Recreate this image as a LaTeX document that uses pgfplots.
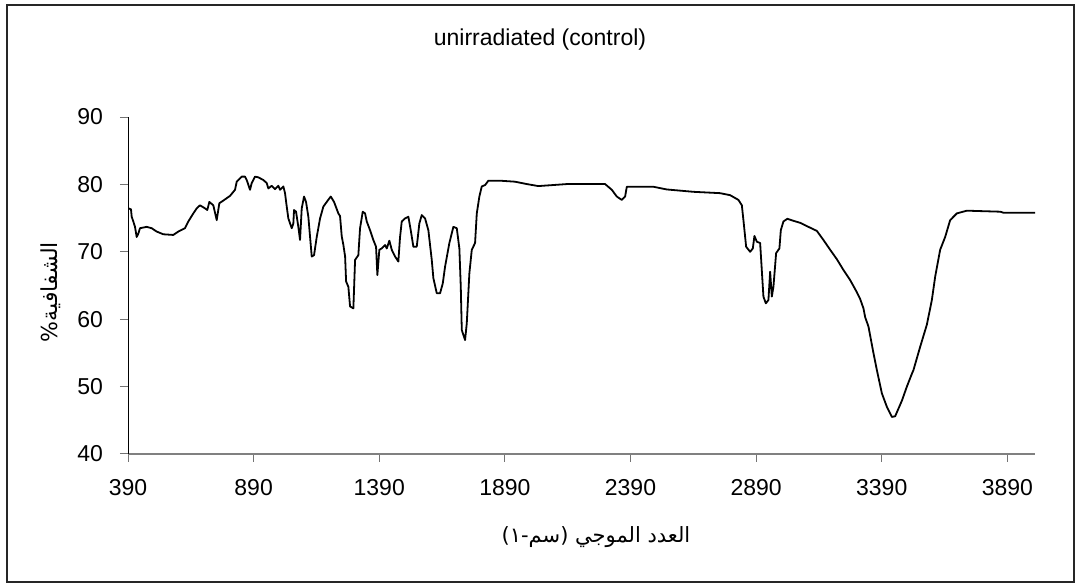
\documentclass[border=0pt]{standalone}
\usepackage{fontspec}
\setmainfont{Liberation Sans}
\newfontfamily\arabicfont[Script=Arabic]{DejaVu Sans}
\TeXXeTstate=1
\usepackage{pgfplots}
\pgfplotsset{compat=1.18}
\begin{document}
\begin{tikzpicture}
\useasboundingbox (0,0) rectangle (540.5pt,291.5pt);
\draw[line width=0.6pt, black!85] (3.5pt,0.5pt) rectangle (537pt,289pt);
\node[font=\fontsize{11.5}{13}\selectfont] at (270pt,271.5pt) {unirradiated (control)};
\node[rotate=90,font=\fontsize{11}{13}\selectfont\arabicfont] at (25.5pt,145.5pt) {\beginR الشفافية\%\endR};
\node[font=\fontsize{10.5}{13}\selectfont\arabicfont] at (298pt,23pt) {\beginR العدد الموجي (سم-١)\endR};
\begin{axis}[
  at={(64pt,64.5pt)}, anchor=south west,
  scale only axis, width=453.5pt, height=168.5pt,
  xmin=390, xmax=4000, ymin=40, ymax=90,
  xtick={390,890,1390,1890,2390,2890,3390,3890},
  ytick={40,50,60,70,80,90},
  axis x line*=bottom, axis y line*=left,
  x axis line style={draw=black!50,-, line width=0.6pt},
  y axis line style={draw=black,-, line width=0.5pt},
  tick align=outside, major tick length=4pt,
  tick style={draw=black!55, line width=0.5pt},
  /pgf/number format/assume math mode=true,
  /pgf/number format/1000 sep={},
  ticklabel style={font=\fontsize{11.5}{13}\selectfont},
  yticklabel style={xshift=-5pt},
  xticklabel style={yshift=-5pt},
]
\addplot[black, line width=0.9pt, line join=round] coordinates {
(391.2,76.45)(401.9,76.3)(404.7,75.2)(411.1,74.5)(417.9,73.7)(424.6,72.2)(431,72.7)(437.8,73.5)
(464.4,73.7)(484.3,73.5)(504.3,73.0)(530.5,72.6)(570.3,72.5)(590.2,73.0)(616.9,73.5)(630.1,74.5)
(650,75.7)(663.5,76.45)(676.6,76.9)(696.5,76.45)(705.7,76.2)(713.7,77.4)(729.6,76.9)(743.1,74.7)
(753.5,77.2)(769.4,77.6)(796.1,78.3)(816,79.2)(822.7,80.4)(842.6,81.15)(855.8,81.15)(862.5,80.65)
(875.7,79.2)(882.4,80.2)(895.6,81.15)(908.7,81.05)(928.6,80.65)(942.2,80.2)(948.5,79.4)(962,79.8)
(975.2,79.3)(988.4,79.8)(995.1,79.2)(1008.3,79.7)(1015,78.7)(1021.8,76.7)(1028.2,74.95)(1041.7,73.5)
(1048.1,74.2)(1050.9,76.2)(1058.8,75.95)(1068,73.7)(1074.7,71.75)(1081.5,76.45)(1090.7,78.2)(1098.6,77.4)
(1107.8,75.2)(1121.3,69.3)(1130.5,69.5)(1141.2,72.2)(1154.4,74.95)(1167.5,76.7)(1181,77.4)(1197,78.2)
(1210.1,77.4)(1227.2,75.7)(1234,75.3)(1240.7,72.3)(1247.3,71.0)(1254.1,69.3)(1258.1,65.6)(1267.1,64.8)
(1273.8,61.9)(1287,61.6)(1293.8,68.8)(1306.8,69.5)(1313.6,73.5)(1324.3,75.95)(1333.5,75.7)(1340.3,74.5)
(1353.4,73.2)(1366.5,71.75)(1377.3,70.75)(1382.5,66.55)(1390.4,70.3)(1400,70.5)(1413.1,71.0)(1419.9,70.5)
(1430.3,71.65)(1439.8,70.3)(1453,69.3)(1466,68.55)(1472.8,72.2)(1479.6,74.5)(1492.7,74.95)(1505.9,75.2)
(1515.4,73.2)(1525.8,70.75)(1539.3,70.75)(1549.6,74.2)(1559.2,75.45)(1572.4,74.95)(1585.5,73.2)(1599,68.8)
(1605.4,66.1)(1618.9,63.85)(1632.1,63.85)(1642.8,65.3)(1652,67.8)(1669.1,71.3)(1685,73.7)(1698.6,73.5)
(1708.9,70.5)(1714.5,64.8)(1718.5,58.4)(1731.6,56.9)(1738.4,59.4)(1748.7,66.8)(1758.3,70.3)(1771.4,71.3)
(1778.2,75.7)(1788.5,78.2)(1798.1,79.7)(1811.2,79.9)(1824.4,80.55)(1871,80.55)(1930.7,80.4)(1977.2,80.05)
(2023.4,79.75)(2136.5,80.05)(2288.9,80.05)(2315.6,79.2)(2335.5,78.2)(2355.4,77.7)(2368.6,78.2)(2375.3,79.65)
(2481.2,79.65)(2534.6,79.25)(2640.5,78.9)(2746.8,78.7)(2786.6,78.4)(2819.6,77.7)(2833.2,76.9)(2839.5,74.7)
(2850.3,70.75)(2866.2,70.0)(2876.9,70.5)(2883.3,72.35)(2892.8,71.5)(2906,71.3)(2919.1,63.35)(2928.7,62.35)
(2939,62.85)(2945.8,67.05)(2952.5,63.35)(2958.9,64.8)(2969.6,69.8)(2982.7,70.5)(2988.3,73.2)(2998.7,74.5)
(3014.6,74.9)(3038.5,74.6)(3065.2,74.3)(3098.2,73.7)(3131.7,73.1)(3158,71.75)(3184.7,70.3)(3211.3,68.9)
(3237.6,67.3)(3264.3,65.8)(3291,64.0)(3304,63.0)(3317.3,61.6)(3324,60.3)(3337.2,58.9)(3357.1,54.95)
(3370.6,52.45)(3390.5,49.0)(3410.4,47.0)(3430.3,45.5)(3443.4,45.6)(3470.1,47.9)(3490,50.0)(3509.9,51.9)
(3516.2,52.45)(3542.9,55.9)(3569.6,59.2)(3589.5,62.85)(3602.6,66.3)(3622.5,70.3)(3642.4,72.2)(3662.3,74.7)
(3689,75.7)(3728.8,76.1)(3861.4,75.95)(3874.5,75.8)(4000,75.8)
};
\end{axis}
\end{tikzpicture}
\end{document}
